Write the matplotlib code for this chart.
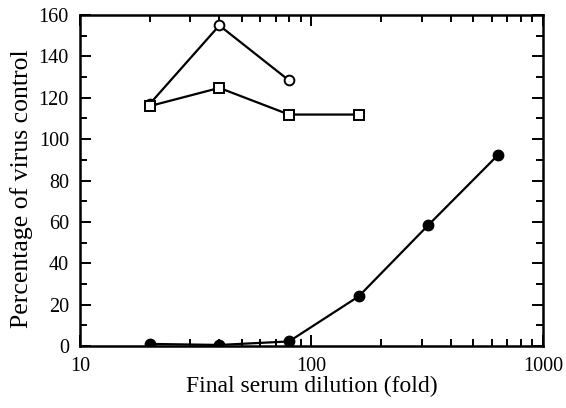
import matplotlib
matplotlib.use("Agg")
import matplotlib.pyplot as plt
from matplotlib.ticker import LogLocator, MultipleLocator, FixedLocator, FixedFormatter, NullFormatter

plt.rcParams['font.family'] = ['Liberation Serif', 'DejaVu Serif']

dilution = [20, 40, 80, 160, 320, 640]
filled_circle = [1, 0.5, 2.2, 24, 58.5, 92.4]
open_circle_x = [20, 40, 80]
open_circle = [117, 155, 128.4]
open_square_x = [20, 40, 80, 160]
open_square = [116, 124.8, 111.9, 111.9]

fig = plt.figure(figsize=(5.66, 4.08), dpi=100)
ax = fig.add_axes([0.1413, 0.152, 0.818, 0.811])

ax.plot(dilution, filled_circle, '-o', color='black', lw=1.6, ms=7.5, mfc='black', mec='black', zorder=3)
ax.plot(open_circle_x, open_circle, '-o', color='black', lw=1.6, ms=7, mfc='white', mec='black', mew=1.4, zorder=3)
ax.plot(open_square_x, open_square, '-s', color='black', lw=1.6, ms=7, mfc='white', mec='black', mew=1.4, zorder=3)

ax.set_xscale('log')
ax.set_xlim(10, 1000)
ax.set_ylim(0, 160)
ax.xaxis.set_major_locator(FixedLocator([10, 100, 1000]))
ax.xaxis.set_major_formatter(FixedFormatter(['10', '100', '1000']))
ax.xaxis.set_minor_locator(LogLocator(base=10, subs=range(2, 10)))
ax.xaxis.set_minor_formatter(NullFormatter())
ax.yaxis.set_major_locator(MultipleLocator(20))
ax.yaxis.set_minor_locator(MultipleLocator(10))

ax.tick_params(which='both', direction='in', top=True, right=True, labelsize=14.5, width=1.4)
ax.tick_params(which='major', length=8, pad=8)
ax.tick_params(which='minor', length=5)
for s in ax.spines.values():
    s.set_linewidth(1.8)

ax.set_xlabel('Final serum dilution (fold)', fontsize=17, labelpad=0)
ax.set_ylabel('Percentage of virus control', fontsize=18.5)
ax.yaxis.set_label_coords(-0.1015, 0.474)

fig.savefig('out.png', dpi=100)
